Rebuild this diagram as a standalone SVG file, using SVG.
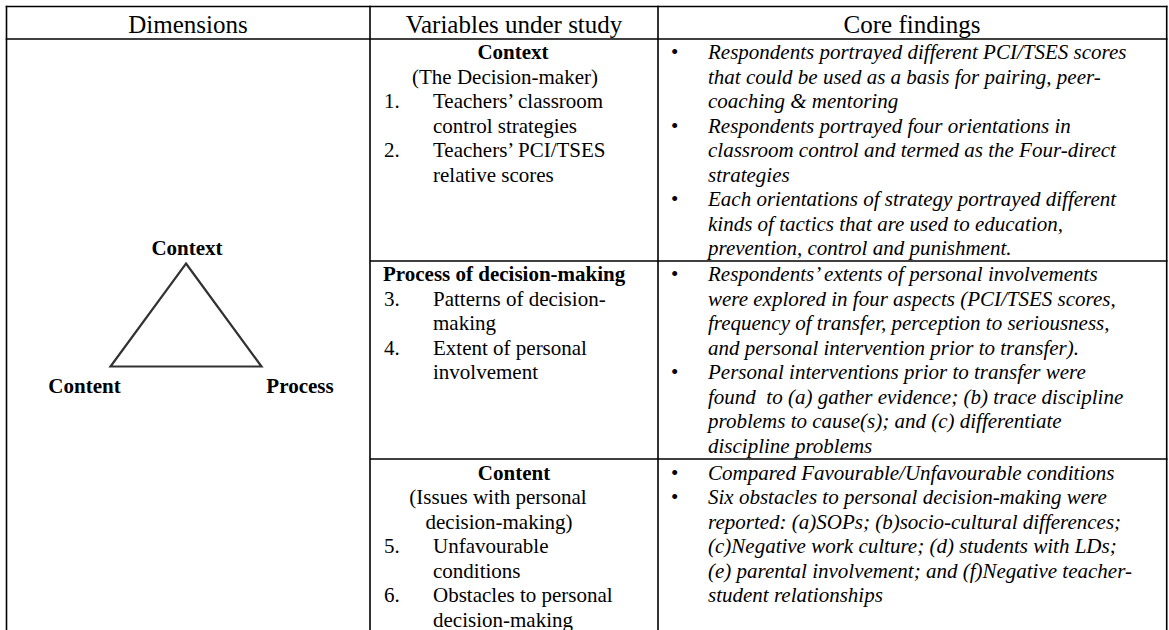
<svg xmlns="http://www.w3.org/2000/svg" width="1169" height="630" viewBox="0 0 1169 630">
  <style>
    text { font-family: "Liberation Serif", "Times New Roman", serif; fill: #000; }
    .hd { font-size: 25px; text-anchor: middle; }
    .b { font-size: 21px; font-weight: bold; }
    .r { font-size: 21px; }
    .i { font-size: 21px; font-style: italic; }
    .c { text-anchor: middle; }
    .grid { stroke: #000; stroke-width: 1.6; fill: none; }
    .tri { stroke: #333; stroke-width: 2.2; fill: none; stroke-linejoin: miter; }
  </style>
  <defs>
    <filter id="soft" x="-10%" y="-10%" width="120%" height="120%">
      <feGaussianBlur stdDeviation="0.7"/>
    </filter>
  </defs>
  <rect width="1169" height="630" fill="#fff"/>

  <!-- table rules -->
  <g id="table-grid" class="grid">
    <line x1="5.7" y1="6.5" x2="1167.5" y2="6.5"/>
    <line x1="5.7" y1="39" x2="1167.5" y2="39"/>
    <line x1="370" y1="261" x2="1167.5" y2="261"/>
    <line x1="370" y1="459" x2="1167.5" y2="459"/>
    <line x1="6.5" y1="5.7" x2="6.5" y2="630"/>
    <line x1="370" y1="5.7" x2="370" y2="630"/>
    <line x1="658" y1="5.7" x2="658" y2="630"/>
    <line x1="1166.7" y1="5.7" x2="1166.7" y2="630"/>
  </g>

  <!-- header row -->
  <g id="header">
    <text class="hd" x="188" y="33">Dimensions</text>
    <text class="hd" x="514" y="33">Variables under study</text>
    <text class="hd" x="912" y="33">Core findings</text>
  </g>

  <!-- dimensions triangle -->
  <g id="triangle">
    <g id="triangle-edges" filter="url(#soft)">
      <path class="tri" d="M186,263.5 L261.5,366.5 L110.5,366.5 Z"/>
    </g>
    <g id="node-context"><text class="b c" x="187" y="255">Context</text></g>
    <g id="node-content"><text class="b c" x="84.5" y="393">Content</text></g>
    <g id="node-process"><text class="b c" x="300" y="393">Process</text></g>
  </g>

  <!-- row 1: context -->
  <g id="row-context">
    <text class="b c" x="513" y="59">Context</text>
    <text class="r c" x="505" y="83.5">(The Decision-maker)</text>
    <text class="r" x="384" y="108">1.</text>
    <text class="r" x="433" y="108">Teachers’ classroom</text>
    <text class="r" x="433" y="132.5">control strategies</text>
    <text class="r" x="384" y="157">2.</text>
    <text class="r" x="433" y="157">Teachers’ PCI/TSES</text>
    <text class="r" x="433" y="181.5">relative scores</text>

    <text class="r" x="671" y="59">•</text>
    <text class="i" x="708" y="59">Respondents portrayed different PCI/TSES scores</text>
    <text class="i" x="708" y="83.5">that could be used as a basis for pairing, peer-</text>
    <text class="i" x="708" y="108">coaching &amp; mentoring</text>
    <text class="r" x="671" y="132.5">•</text>
    <text class="i" x="708" y="132.5">Respondents portrayed four orientations in</text>
    <text class="i" x="708" y="157">classroom control and termed as the Four-direct</text>
    <text class="i" x="708" y="181.5">strategies</text>
    <text class="r" x="671" y="206">•</text>
    <text class="i" x="708" y="206">Each orientations of strategy portrayed different</text>
    <text class="i" x="708" y="230.5">kinds of tactics that are used to education,</text>
    <text class="i" x="708" y="255">prevention, control and punishment.</text>
  </g>

  <!-- row 2: process -->
  <g id="row-process">
    <text class="b" x="383" y="281">Process of decision-making</text>
    <text class="r" x="384" y="305.5">3.</text>
    <text class="r" x="433" y="305.5">Patterns of decision-</text>
    <text class="r" x="433" y="330">making</text>
    <text class="r" x="384" y="354.5">4.</text>
    <text class="r" x="433" y="354.5">Extent of personal</text>
    <text class="r" x="433" y="379">involvement</text>

    <text class="r" x="671" y="281">•</text>
    <text class="i" x="708" y="281">Respondents’ extents of personal involvements</text>
    <text class="i" x="708" y="305.5">were explored in four aspects (PCI/TSES scores,</text>
    <text class="i" x="708" y="330">frequency of transfer, perception to seriousness,</text>
    <text class="i" x="708" y="354.5">and personal intervention prior to transfer).</text>
    <text class="r" x="671" y="379">•</text>
    <text class="i" x="708" y="379">Personal interventions prior to transfer were</text>
    <text class="i" x="708" y="403.5" xml:space="preserve">found  to (a) gather evidence; (b) trace discipline</text>
    <text class="i" x="708" y="428">problems to cause(s); and (c) differentiate</text>
    <text class="i" x="708" y="452.5">discipline problems</text>
  </g>

  <!-- row 3: content -->
  <g id="row-content">
    <text class="b c" x="514" y="479.5">Content</text>
    <text class="r c" x="498" y="504">(Issues with personal</text>
    <text class="r c" x="499" y="528.5">decision-making)</text>
    <text class="r" x="384" y="553">5.</text>
    <text class="r" x="433" y="553">Unfavourable</text>
    <text class="r" x="433" y="577.5">conditions</text>
    <text class="r" x="384" y="602">6.</text>
    <text class="r" x="433" y="602">Obstacles to personal</text>
    <text class="r" x="433" y="626.5">decision-making</text>

    <text class="r" x="671" y="479.5">•</text>
    <text class="i" x="708" y="479.5">Compared Favourable/Unfavourable conditions</text>
    <text class="r" x="671" y="504">•</text>
    <text class="i" x="708" y="504">Six obstacles to personal decision-making were</text>
    <text class="i" x="708" y="528.5">reported: (a)SOPs; (b)socio-cultural differences;</text>
    <text class="i" x="708" y="553">(c)Negative work culture; (d) students with LDs;</text>
    <text class="i" x="708" y="577.5">(e) parental involvement; and (f)Negative teacher-</text>
    <text class="i" x="708" y="602">student relationships</text>
  </g>
</svg>
